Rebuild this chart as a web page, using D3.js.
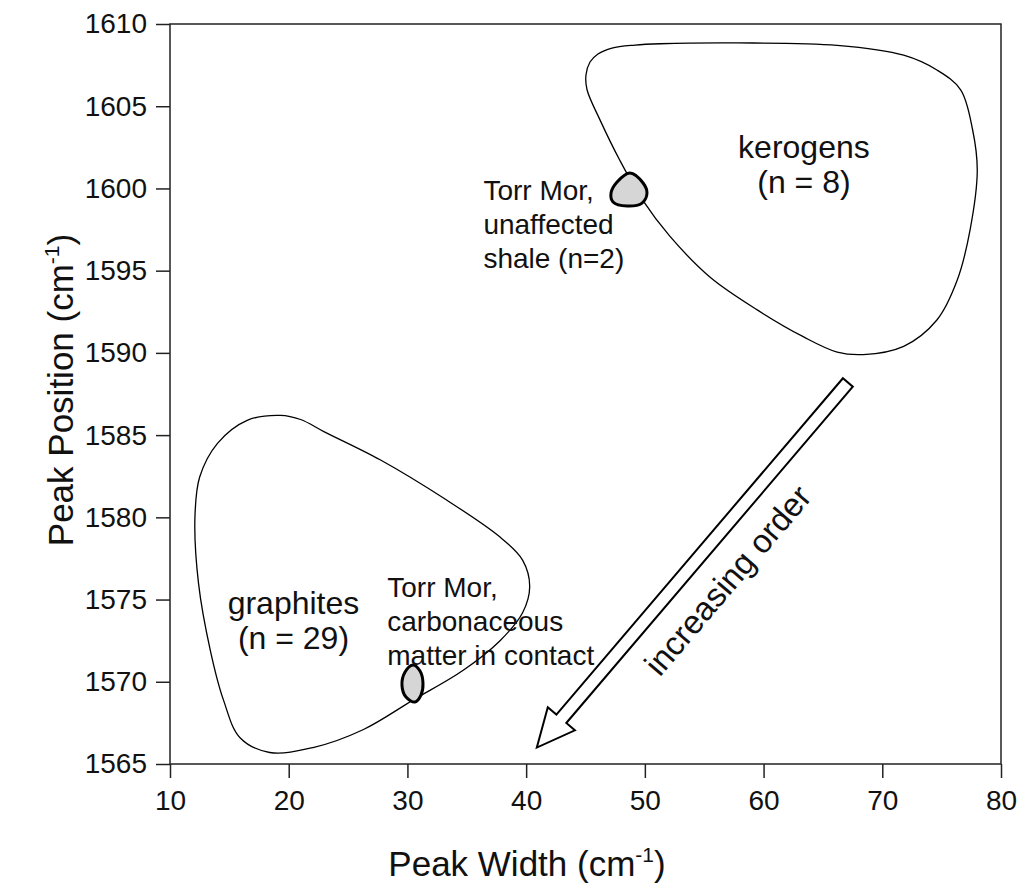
<!DOCTYPE html>
<meta charset="utf-8">
<style>
  body { margin: 0; background: #fff; }
  text { font-family: "Liberation Sans", Arial, Helvetica, sans-serif; fill: #111; }
</style>
<body>
<script src="https://cdn.jsdelivr.net/npm/d3@7"></script>
<script>

// axis ticks
var xTicks = [10, 20, 30, 40, 50, 60, 70, 80];
var yTicks = [1565, 1570, 1575, 1580, 1585, 1590, 1595, 1600, 1605, 1610];

// field outlines, [peak width, peak position]
var kerogenOutline = [
  [45.13, 1606.0], [45.04, 1606.9], [45.38, 1607.69], [46.05, 1608.18], [47.23, 1608.54],
  [49.17, 1608.72], [51.3, 1608.8], [57.8, 1608.85], [66.2, 1608.7], [71.8, 1608.1],
  [74.6, 1607.2], [76.6, 1606.0], [77.6, 1603.6], [78.0, 1601.1], [77.4, 1597.5],
  [76.3, 1594.4], [74.6, 1592.0], [71.8, 1590.4], [68.4, 1589.9], [66.2, 1590.05],
  [63.3, 1591.0], [59.5, 1592.6], [55.5, 1594.6], [52.1, 1597.1], [49.8, 1599.3],
  [47.9, 1601.7], [46.2, 1604.2]
];
var graphiteOutline = [
  [19.3, 1586.2], [16.5, 1585.9], [14.0, 1584.5], [12.5, 1582.45], [12.1, 1580.0],
  [12.4, 1576.0], [13.4, 1571.9], [14.5, 1568.9], [15.9, 1566.6], [18.4, 1565.7],
  [22.05, 1566.0], [26.3, 1567.1], [30.5, 1568.9], [34.7, 1570.7], [37.8, 1572.5],
  [39.7, 1574.2], [40.3, 1575.8], [39.7, 1577.4], [37.8, 1578.8], [33.3, 1581.05],
  [27.7, 1583.5], [23.0, 1585.2], [21.0, 1585.95]
];

// Torr Mor samples
var shaleBlob = [
  [48.75, 1600.94], [49.85, 1600.33], [50.18, 1599.72], [49.76, 1599.11],
  [48.5, 1598.93], [47.32, 1599.18], [47.15, 1599.72], [47.66, 1600.39]
];
var contactBlob = [
  [30.47, 1571.02], [31.06, 1570.65], [31.31, 1569.92], [31.14, 1569.19],
  [30.64, 1568.77], [29.88, 1569.07], [29.54, 1569.8], [29.8, 1570.59]
];

// labels: [x, first baseline, lines]
var fieldLabels = [
  [63.4, 1601.85, ["kerogens", "(n = 8)"]],
  [20.4, 1574.1, ["graphites", "(n = 29)"]]
];
var sampleLabels = [
  [36.4, 1599.3, ["Torr Mor,", "unaffected", "shale (n=2)"]],
  [28.3, 1575.15, ["Torr Mor,", "carbonaceous", "matter in contact"]]
];

// ordering arrow, from tail to head
var arrowFrom = [67.1, 1588.2];
var arrowTo = [40.9, 1566.0];

var width = 1021, height = 888;

var svg = d3.select("body").append("svg")
    .attr("width", width)
    .attr("height", height);

var x = d3.scaleLinear().domain([10, 80]).range([170, 1001]);
var y = d3.scaleLinear().domain([1565, 1610]).range([764, 24]);

var outline = d3.line()
    .x(function(d){ return x(d[0]); })
    .y(function(d){ return y(d[1]); })
    .curve(d3.curveCatmullRomClosed.alpha(0.5));

// fields
svg.selectAll("path.field")
   .data([kerogenOutline, graphiteOutline])
   .enter().append("path")
   .attr("class", "field")
   .attr("d", outline)
   .attr("fill", "none")
   .attr("stroke", "#000")
   .attr("stroke-width", 1.3);

// sample blobs
svg.selectAll("path.blob")
   .data([shaleBlob, contactBlob])
   .enter().append("path")
   .attr("class", "blob")
   .attr("d", outline)
   .attr("fill", "#d6d6d6")
   .attr("stroke", "#000")
   .attr("stroke-width", 3);

// axes
var xAxis = svg.append("g")
    .attr("transform", "translate(0," + y(1565) + ")")
    .call(d3.axisBottom(x).tickValues(xTicks).tickFormat(d3.format("d"))
      .tickSize(14).tickSizeOuter(0).tickPadding(12));
var yAxis = svg.append("g")
    .attr("transform", "translate(" + x(10) + ",0)")
    .call(d3.axisLeft(y).tickValues(yTicks).tickFormat(d3.format("d"))
      .tickSize(14).tickSizeOuter(0).tickPadding(9));

[xAxis, yAxis].forEach(function(a){
  a.select(".domain").remove();
  a.selectAll("line").attr("stroke", "#222").attr("stroke-width", 1.5);
  a.selectAll("text")
   .style("font-family", "'Liberation Sans', Arial, Helvetica, sans-serif")
   .style("font-size", "28px")
   .attr("fill", "#111");
});

svg.append("rect")
   .attr("x", x(10)).attr("y", y(1610))
   .attr("width", x(80) - x(10))
   .attr("height", y(1565) - y(1610))
   .attr("fill", "none")
   .attr("stroke", "#222")
   .attr("stroke-width", 1.5);

// arrow
var t = [x(arrowFrom[0]), y(arrowFrom[1])],
    h = [x(arrowTo[0]), y(arrowTo[1])];
var len = Math.hypot(h[0] - t[0], h[1] - t[1]);
var u = [(h[0] - t[0]) / len, (h[1] - t[1]) / len],
    n = [-u[1], u[0]];
var hw = 6.5, headW = 17.8, headL = 37.8;
var b = [h[0] - u[0] * headL, h[1] - u[1] * headL];
function off(p, k){ return [p[0] + n[0] * k, p[1] + n[1] * k]; }
var arrowPts = [off(t, hw), off(b, hw), off(b, headW), h, off(b, -headW), off(b, -hw), off(t, -hw)];

svg.append("path")
   .attr("d", d3.line()(arrowPts) + "Z")
   .attr("fill", "#fff")
   .attr("stroke", "#000")
   .attr("stroke-width", 2)
   .attr("stroke-linejoin", "miter");

var along = 228.5, side = -36.7;
var tc = [t[0] + u[0] * along + n[0] * side, t[1] + u[1] * along + n[1] * side];
var ang = Math.atan2(t[1] - h[1], t[0] - h[0]) * 180 / Math.PI;
svg.append("text")
   .attr("transform", "translate(" + tc[0] + "," + tc[1] + ") rotate(" + ang + ")")
   .attr("text-anchor", "middle")
   .attr("dy", "0.35em")
   .style("font-size", "33px")
   .text("increasing order");

// field labels
fieldLabels.forEach(function(l){
  var tx = svg.append("text")
     .attr("x", x(l[0])).attr("y", y(l[1]))
     .attr("text-anchor", "middle")
     .style("font-size", "32px");
  l[2].forEach(function(s, i){
    tx.append("tspan").attr("x", x(l[0])).attr("dy", i ? 34.5 : 0).text(s);
  });
});

// sample labels
sampleLabels.forEach(function(l){
  var tx = svg.append("text")
     .attr("x", x(l[0])).attr("y", y(l[1]))
     .style("font-size", "28px");
  l[2].forEach(function(s, i){
    tx.append("tspan").attr("x", x(l[0])).attr("dy", i ? 34 : 0).text(s);
  });
});

// axis titles
var xt = svg.append("text")
   .attr("x", 527).attr("y", 876)
   .attr("text-anchor", "middle")
   .style("font-size", "35px");
xt.append("tspan").text("Peak Width (cm");
xt.append("tspan").attr("dy", -14).style("font-size", "21px").text("-1");
xt.append("tspan").attr("dy", 14).text(")");

var yt = svg.append("text")
   .attr("transform", "translate(73,390) rotate(-90)")
   .attr("text-anchor", "middle")
   .style("font-size", "35px");
yt.append("tspan").text("Peak Position (cm");
yt.append("tspan").attr("dy", -14).style("font-size", "21px").text("-1");
yt.append("tspan").attr("dy", 14).text(")");

</script>
</body>
